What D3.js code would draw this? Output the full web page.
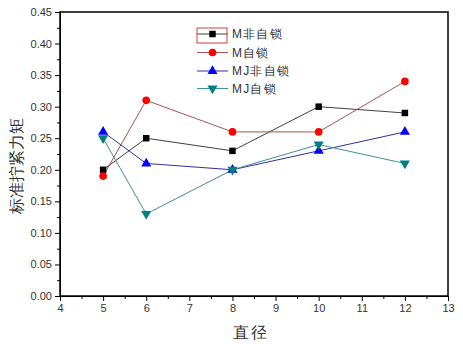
<!DOCTYPE html>
<html>
<head>
<meta charset="utf-8">
<script src="https://cdn.jsdelivr.net/npm/d3@7"></script>
<style>
  body { margin: 0; background: #fff; }
  svg text { font-family: "Liberation Sans", Arial, sans-serif; }
</style>
</head>
<body>
<div id="chart"></div>
<script>
const diameters = [5, 6, 8, 10, 12];
const mNonLock = [0.20, 0.25, 0.23, 0.30, 0.29];
const mLock = [0.19, 0.31, 0.26, 0.26, 0.34];
const mjNonLock = [0.26, 0.21, 0.20, 0.23, 0.26];
const mjLock = [0.25, 0.13, 0.20, 0.24, 0.21];
const seriesNames = ["M非自锁", "M自锁", "MJ非自锁", "MJ自锁"];
const xTicks = [4, 5, 6, 7, 8, 9, 10, 11, 12, 13];
const yTicks = [0, 0.05, 0.10, 0.15, 0.20, 0.25, 0.30, 0.35, 0.40, 0.45];

const w = 463, h = 344;
const padLeft = 60, padRight = 448, padTop = 12, padBottom = 296;

const series = [
  { name: seriesNames[0], values: mNonLock, line: "#404040", fill: "#000000", symbol: d3.symbolSquare, rot: 0, size: 42 },
  { name: seriesNames[1], values: mLock, line: "#b05050", fill: "#ff0000", symbol: d3.symbolCircle, rot: 0, size: 46 },
  { name: seriesNames[2], values: mjNonLock, line: "#3030a0", fill: "#0000ff", symbol: d3.symbolTriangle, rot: 0, size: 44 },
  { name: seriesNames[3], values: mjLock, line: "#409090", fill: "#008080", symbol: d3.symbolTriangle, rot: 180, size: 44 }
];

const svg = d3.select("#chart").append("svg")
  .attr("width", w)
  .attr("height", h);

const xScale = d3.scaleLinear().domain([4, 13]).range([padLeft, padRight]);
const yScale = d3.scaleLinear().domain([0, 0.45]).range([padBottom, padTop]);

// minor ticks
const xMinor = d3.range(4.5, 13, 1);
const yMinor = d3.range(0.025, 0.45, 0.05);

svg.append("g")
  .attr("transform", "translate(0," + padBottom + ")")
  .call(d3.axisBottom(xScale).tickValues(xMinor).tickSize(3).tickFormat(""))
  .call(g => g.select(".domain").remove());
svg.append("g")
  .attr("transform", "translate(" + padLeft + ",0)")
  .call(d3.axisLeft(yScale).tickValues(yMinor).tickSize(3).tickFormat(""))
  .call(g => g.select(".domain").remove());

const xAxis = svg.append("g")
  .attr("transform", "translate(0," + padBottom + ")")
  .call(d3.axisBottom(xScale).tickValues(xTicks).tickSize(5).tickSizeOuter(0).tickPadding(3).tickFormat(d3.format("d")));
const yAxis = svg.append("g")
  .attr("transform", "translate(" + padLeft + ",0)")
  .call(d3.axisLeft(yScale).tickValues(yTicks).tickSize(5).tickSizeOuter(0).tickPadding(3).tickFormat(d3.format(".2f")));

[xAxis, yAxis].forEach(g => {
  g.selectAll("text").attr("font-size", 11).attr("fill", "#333")
    .attr("font-family", "'Liberation Sans', Arial, sans-serif");
});
svg.selectAll("g.tick line").attr("stroke", "#000");

// frame
svg.append("rect")
  .attr("x", padLeft).attr("y", padTop)
  .attr("width", padRight - padLeft).attr("height", padBottom - padTop)
  .attr("fill", "none").attr("stroke", "#000").attr("stroke-width", 1.5);

// lines and markers
const line = d3.line()
  .x((d, i) => xScale(diameters[i]))
  .y(d => yScale(d));

series.forEach(s => {
  svg.append("path")
    .attr("d", line(s.values))
    .attr("fill", "none")
    .attr("stroke", s.line)
    .attr("stroke-width", 1);
});
series.forEach(s => {
  svg.selectAll(null).data(s.values).enter().append("path")
    .attr("d", d3.symbol().type(s.symbol).size(s.size))
    .attr("transform", (d, i) => "translate(" + xScale(diameters[i]) + "," + yScale(d) + ") rotate(" + s.rot + ")")
    .attr("fill", s.fill);
});

// legend
const legend = svg.append("g");
const legY = [34, 52.5, 71, 88.5];
series.forEach((s, i) => {
  const g = legend.append("g").attr("transform", "translate(197," + legY[i] + ")");
  g.append("line").attr("x1", 0).attr("x2", 31).attr("y1", 0).attr("y2", 0)
    .attr("stroke", s.line).attr("stroke-width", 1);
  g.append("path")
    .attr("d", d3.symbol().type(s.symbol).size(s.size))
    .attr("transform", "translate(15.5,0) rotate(" + s.rot + ")")
    .attr("fill", s.fill);
  g.append("text")
    .attr("x", 35).attr("y", 0).attr("dy", "0.36em")
    .attr("font-size", 12).attr("fill", "#333")
    .attr("letter-spacing", 1.2)
    .attr("font-family", "'Noto Sans CJK SC', sans-serif")
    .text(s.name);
});
legend.append("rect")
  .attr("x", 197).attr("y", 28).attr("width", 30).attr("height", 15)
  .attr("fill", "none").attr("stroke", "#d04040").attr("stroke-width", 1);

// axis titles
svg.append("text")
  .attr("x", 251).attr("y", 338)
  .attr("text-anchor", "middle")
  .attr("font-size", 16).attr("fill", "#333")
  .attr("letter-spacing", 2)
  .attr("font-family", "'Noto Sans CJK SC', sans-serif")
  .text("直径");
svg.append("text")
  .attr("transform", "translate(22,166) rotate(-90)")
  .attr("text-anchor", "middle")
  .attr("font-size", 16).attr("fill", "#333")
  .attr("font-family", "'Noto Sans CJK SC', sans-serif")
  .text("标准拧紧力矩");
</script>
</body>
</html>
